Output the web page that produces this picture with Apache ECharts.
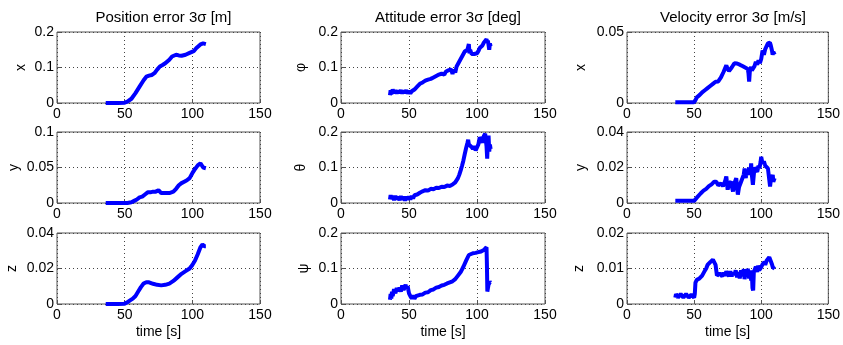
<!DOCTYPE html>
<html>
<head>
<meta charset="utf-8">
<script src="https://cdn.jsdelivr.net/npm/echarts@6/dist/echarts.min.js"></script>
<style>
  html, body {margin: 0; padding: 0; background: #fff;}
  #chart {width: 843px; height: 345px;}
</style>
</head>
<body>
<div id="chart"></div>
<script>
// column titles and axis labels
var colTitles = ['Position error 3σ [m]', 'Attitude error 3σ [deg]', 'Velocity error 3σ [m/s]'];
var rowNames = [['x', 'y', 'z'], ['φ', 'θ', 'ψ'], ['x', 'y', 'z']];
var timeTicks = [0, 50, 100, 150];
// y ranges per panel [col][row] -> [max, interval]
var yMax = [[0.2, 0.1, 0.04], [0.2, 0.2, 0.2], [0.05, 0.04, 0.02]];
var yStep = [[0.1, 0.05, 0.02], [0.1, 0.1, 0.1], [0.05, 0.02, 0.01]];

// [time, value]
var posX = [[36,0],[40,0],[45,0],[50,0.001],[52,0.004],[55,0.012],[58,0.028],[61,0.046],[64,0.064],[66,0.074],[68,0.077],[70,0.079],[72,0.084],[74,0.094],[76,0.103],[78,0.107],[80,0.112],[83,0.122],[85,0.131],[88,0.136],[90,0.134],[92,0.133],[95,0.136],[98,0.141],[101,0.146],[103,0.155],[106,0.165],[108,0.168],[110,0.166]];
var posY = [[36,0],[45,0],[52,0],[55,0.001],[57,0.003],[59,0.005],[61,0.008],[63,0.009],[65,0.012],[67,0.015],[69,0.015],[71,0.016],[73,0.016],[75,0.018],[76,0.017],[77,0.014],[80,0.014],[83,0.014],[86,0.016],[88,0.020],[90,0.025],[92,0.028],[94,0.030],[96,0.032],[98,0.035],[100,0.042],[102,0.048],[104,0.053],[106,0.056],[107,0.058],[108,0.050],[110,0.049]];
var posZ = [[36,0],[45,0],[50,0.0002],[52,0.001],[54,0.002],[56,0.003],[58,0.0045],[60,0.007],[62,0.0095],[64,0.0115],[66,0.0123],[68,0.0122],[71,0.0114],[74,0.0108],[77,0.0105],[80,0.0108],[83,0.0115],[86,0.013],[89,0.015],[92,0.017],[95,0.0185],[98,0.020],[100,0.022],[102,0.0245],[104,0.028],[106,0.032],[107.5,0.0335],[109,0.0325],[110,0.0325]];

var attPhi = [[36,0.022],[36.5,0.036],[37,0.025],[38,0.038],[39,0.028],[40,0.036],[41,0.027],[42,0.035],[43,0.028],[44,0.036],[45,0.027],[46,0.035],[47,0.028],[48,0.036],[49,0.027],[50,0.034],[51,0.027],[52,0.033],[53,0.03],[54,0.038],[55,0.04],[56,0.046],[57,0.048],[58,0.054],[59,0.056],[60,0.058],[61,0.060],[62,0.063],[63,0.064],[64,0.066],[66,0.068],[68,0.072],[70,0.076],[72,0.080],[74,0.083],[75,0.087],[76,0.080],[77,0.088],[78,0.086],[79,0.092],[80,0.090],[81,0.095],[82,0.082],[83,0.094],[84,0.086],[85,0.103],[86,0.11],[87,0.115],[88,0.124],[89,0.131],[90,0.138],[91,0.145],[92,0.148],[93,0.150],[94,0.166],[94.5,0.140],[95,0.150],[96,0.138],[97,0.142],[98,0.138],[99,0.141],[100,0.140],[101,0.146],[102,0.155],[103,0.158],[104,0.162],[105,0.170],[106,0.175],[107,0.180],[107.5,0.170],[108,0.176],[109,0.150],[109.5,0.168],[110,0.160]];
var attTheta = [[36,0.010],[36.5,0.022],[37,0.012],[38,0.020],[39,0.008],[40,0.020],[41,0.010],[42,0.018],[43,0.008],[44,0.019],[45,0.009],[46,0.018],[47,0.007],[48,0.018],[49,0.009],[50,0.018],[51,0.010],[52,0.020],[53,0.013],[54,0.022],[55,0.017],[56,0.024],[57,0.021],[58,0.029],[59,0.025],[60,0.033],[61,0.030],[62,0.036],[64,0.035],[66,0.040],[68,0.039],[70,0.043],[72,0.042],[74,0.046],[76,0.045],[78,0.049],[80,0.048],[82,0.052],[83,0.053],[84,0.058],[85,0.062],[86,0.070],[87,0.080],[88,0.092],[89,0.105],[90,0.120],[91,0.138],[92,0.155],[93,0.170],[93.5,0.178],[94,0.165],[95,0.17],[96,0.158],[97,0.152],[98,0.160],[99,0.148],[100,0.152],[101,0.165],[102,0.185],[103,0.178],[104,0.17],[105,0.188],[106,0.195],[106.5,0.198],[107,0.16],[107.5,0.125],[108,0.175],[108.5,0.19],[109,0.145],[109.5,0.165],[110,0.152]];
var attPsi = [[36,0.012],[36.5,0.028],[37,0.015],[37.5,0.035],[38,0.022],[39,0.042],[40,0.030],[41,0.045],[42,0.036],[43,0.046],[44,0.035],[45,0.052],[46,0.040],[47,0.048],[47.5,0.055],[48,0.042],[49,0.050],[50,0.030],[51,0.022],[52,0.016],[53,0.024],[54,0.015],[55,0.022],[56,0.018],[58,0.026],[60,0.027],[62,0.032],[64,0.033],[66,0.039],[68,0.041],[70,0.046],[72,0.048],[74,0.052],[76,0.054],[78,0.058],[80,0.061],[82,0.064],[83,0.068],[84,0.070],[86,0.080],[88,0.090],[90,0.105],[92,0.122],[94,0.138],[95,0.143],[97,0.143],[99,0.144],[101,0.146],[103,0.148],[105,0.152],[106,0.156],[107,0.160],[107.3,0.110],[107.6,0.035],[108,0.030],[108.5,0.055],[109,0.050],[109.5,0.062],[110,0.060]];

var velX = [[36,0.0005],[40,0.0005],[45,0.0005],[50,0.0005],[51,0.002],[52,0.004],[54,0.0055],[56,0.0075],[58,0.009],[60,0.0105],[62,0.012],[64,0.0135],[66,0.015],[68,0.0152],[69,0.0148],[70,0.018],[72,0.022],[74,0.0265],[75,0.024],[76,0.0225],[77,0.0235],[78,0.025],[80,0.028],[81,0.029],[82,0.0278],[84,0.027],[85,0.0272],[86,0.026],[88,0.025],[89,0.0245],[90,0.024],[90.5,0.021],[91,0.015],[91.5,0.022],[92.5,0.0255],[93,0.023],[94,0.022],[95,0.026],[96,0.029],[97,0.027],[98,0.03],[99,0.028],[100,0.031],[101,0.037],[102,0.034],[103,0.038],[104,0.039],[105,0.042],[106,0.041],[106.5,0.0425],[107,0.041],[108,0.037],[108.5,0.034],[109,0.036],[110,0.034]];
var velY = [[36,0.0012],[40,0.0012],[45,0.0012],[50,0.0012],[51,0.002],[52,0.003],[53,0.004],[55,0.0055],[57,0.007],[59,0.008],[61,0.0095],[63,0.0105],[65,0.012],[66.5,0.012],[68,0.010],[69,0.009],[70,0.011],[71.5,0.0095],[73,0.012],[74,0.015],[75,0.0075],[76,0.011],[77.5,0.012],[78.5,0.008],[79,0.0065],[80,0.011],[81.4,0.014],[82,0.009],[82.6,0.0047],[83.5,0.009],[85,0.012],[86,0.011],[87,0.016],[87.6,0.0195],[88.5,0.014],[89,0.018],[90,0.0158],[91,0.02],[92,0.017],[92.5,0.0223],[93,0.016],[93.8,0.0102],[94.5,0.016],[95,0.02],[96,0.0195],[97,0.0175],[98,0.021],[98.7,0.0195],[99.5,0.023],[100,0.026],[101,0.022],[102,0.0235],[103,0.021],[104,0.0205],[105,0.0195],[106,0.0186],[106.6,0.0093],[107,0.012],[108,0.0125],[108.6,0.0158],[109,0.012],[110,0.014]];
var velZ = [[36,0.0018],[36.5,0.0028],[38,0.0018],[40,0.0028],[42,0.0018],[44,0.0028],[46,0.0018],[48,0.0027],[50,0.0018],[50.5,0.0028],[51,0.006],[52,0.0068],[53,0.0065],[54,0.0072],[55,0.0075],[56,0.008],[57,0.0085],[58,0.0094],[59,0.010],[60,0.011],[61,0.0113],[62,0.0118],[63,0.0122],[64,0.0125],[65.4,0.0123],[66,0.011],[67,0.008],[68,0.0078],[69,0.0086],[70,0.0085],[71,0.0078],[72,0.0088],[73,0.008],[74,0.0092],[75,0.0085],[76,0.0078],[77,0.0092],[78,0.0078],[79,0.0088],[80,0.0082],[81,0.0095],[82,0.0075],[83,0.009],[84,0.0072],[85,0.0095],[86,0.0078],[87,0.0098],[87.6,0.007],[88.5,0.0095],[89,0.0078],[90,0.0099],[91,0.0072],[92,0.0095],[92.5,0.0066],[93,0.009],[93.5,0.0045],[94,0.0038],[94.5,0.009],[95,0.0094],[96,0.0105],[97,0.009],[97.5,0.0108],[98.5,0.0095],[100,0.0104],[101,0.0112],[102.4,0.0118],[103,0.011],[104,0.0122],[105,0.0125],[106,0.0132],[107,0.0128],[108,0.0112],[108.6,0.0104],[109,0.0105],[110,0.0099]];

var seriesData = [[posX, posY, posZ], [attPhi, attTheta, attPsi], [velX, velY, velZ]];

// layout (px)
var colLeft = [57, 341, 627];
var colWidth = [203, 204, 202];
var rowTop = [32, 132, 233];
var rowHeight = 71;
// where the y label centres sit
var nameX = [[22, 15, 13], [302, 302, 305], [582, 582, 580]];

var font = 'Liberation Sans, Arial, Helvetica, sans-serif';

var grids = [], xAxes = [], yAxes = [], series = [], titles = [];
for (var c = 0; c < 3; c++) {
  titles.push({
    text: colTitles[c],
    left: colLeft[c] + colWidth[c] / 2,
    top: 5,
    textAlign: 'center',
    textStyle: {fontSize: 15, fontWeight: 'normal', color: '#000', fontFamily: font}
  });
  for (var r = 0; r < 3; r++) {
    var i = grids.length;
    grids.push({
      left: colLeft[c], top: rowTop[r], width: colWidth[c], height: rowHeight,
      show: true, borderColor: '#555', borderWidth: 1, backgroundColor: '#fff'
    });
    xAxes.push({
      type: 'value', gridIndex: i, min: 0, max: 150, interval: 50,
      name: r === 2 ? 'time [s]' : '', nameLocation: 'middle', nameGap: 21,
      nameTextStyle: {fontSize: 14, color: '#000', fontFamily: font},
      axisLine: {show: false},
      axisTick: {show: true, inside: true, length: 4, lineStyle: {color: '#555'}},
      axisLabel: {fontSize: 14, color: '#000', margin: 4, fontFamily: font},
      splitLine: {show: true, lineStyle: {color: '#444', type: [1, 3], width: 1}}
    });
    yAxes.push({
      type: 'value', gridIndex: i, min: 0, max: yMax[c][r], interval: yStep[c][r],
      name: rowNames[c][r], nameLocation: 'middle', nameRotate: 90,
      nameGap: colLeft[c] - nameX[c][r] - 6,
      nameTextStyle: {fontSize: 14, color: '#000', fontFamily: font},
      axisLine: {show: false},
      axisTick: {show: true, inside: true, length: 4, lineStyle: {color: '#555'}},
      axisLabel: {fontSize: 14, color: '#000', margin: 3, fontFamily: font},
      splitLine: {show: true, lineStyle: {color: '#444', type: [1, 3], width: 1}}
    });
    series.push({
      type: 'line', xAxisIndex: i, yAxisIndex: i,
      data: seriesData[c][r],
      showSymbol: false,
      lineStyle: {color: '#0000ff', width: 4},
      itemStyle: {color: '#0000ff'}
    });
  }
}

var myChart = echarts.init(document.getElementById('chart'));
myChart.setOption({
  animation: false,
  backgroundColor: '#fff',
  title: titles,
  grid: grids,
  xAxis: xAxes,
  yAxis: yAxes,
  series: series
});
</script>
</body>
</html>
